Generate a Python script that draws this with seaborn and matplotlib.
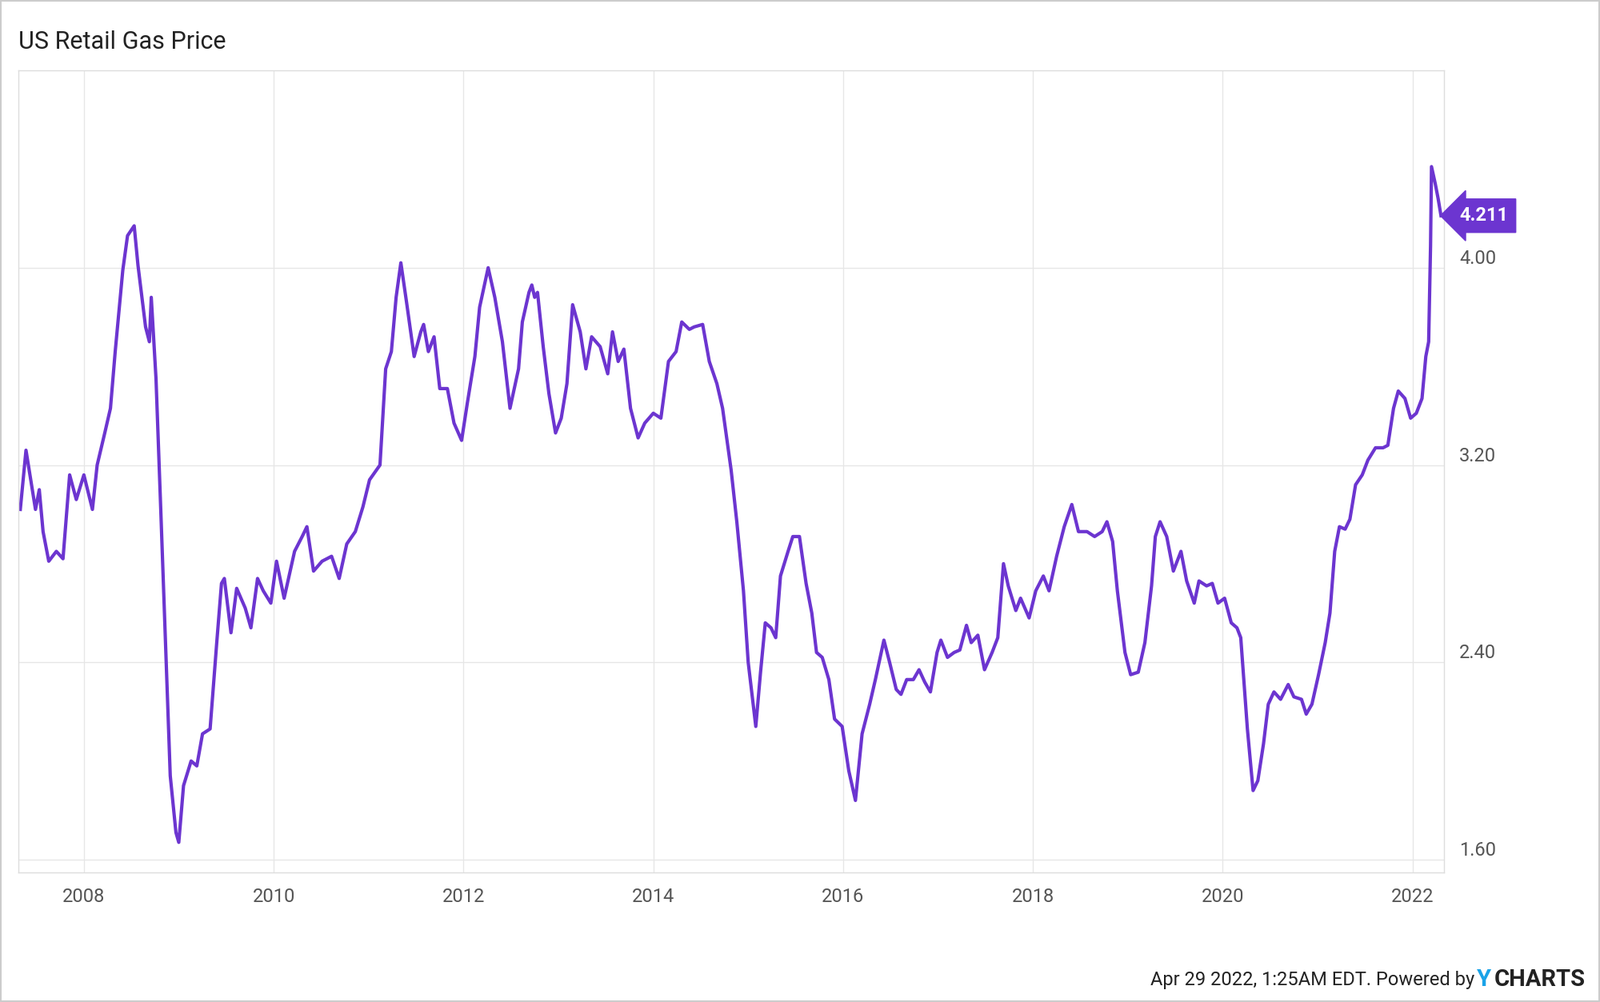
import matplotlib
matplotlib.use("Agg")
import matplotlib.pyplot as plt
import numpy as np
import pandas as pd
import seaborn as sns
from matplotlib.patches import Rectangle

years = [
    2007.33, 2007.39, 2007.49, 2007.53, 2007.57, 2007.63, 2007.71, 2007.78, 2007.85, 2007.92,
    2008.00, 2008.09, 2008.14, 2008.22, 2008.28, 2008.33, 2008.41, 2008.46, 2008.53, 2008.57,
    2008.65, 2008.69, 2008.71, 2008.76, 2008.81, 2008.86, 2008.91, 2008.97, 2009.00, 2009.05,
    2009.13, 2009.19, 2009.25, 2009.33, 2009.40, 2009.45, 2009.48, 2009.55, 2009.61, 2009.70,
    2009.76, 2009.83, 2009.89, 2009.97, 2010.03, 2010.11, 2010.22, 2010.30, 2010.35, 2010.42,
    2010.51, 2010.61, 2010.69, 2010.77, 2010.86, 2010.94, 2011.01, 2011.12, 2011.18, 2011.24,
    2011.29, 2011.34, 2011.40, 2011.48, 2011.55, 2011.58, 2011.63, 2011.69, 2011.75, 2011.83,
    2011.90, 2011.98, 2012.04, 2012.12, 2012.17, 2012.26, 2012.33, 2012.41, 2012.49, 2012.58,
    2012.62, 2012.69, 2012.72, 2012.75, 2012.78, 2012.84, 2012.90, 2012.97, 2013.03, 2013.09,
    2013.15, 2013.23, 2013.29, 2013.35, 2013.44, 2013.52, 2013.57, 2013.63, 2013.69, 2013.76,
    2013.84, 2013.91, 2014.00, 2014.08, 2014.16, 2014.24, 2014.30, 2014.38, 2014.43, 2014.52,
    2014.59, 2014.67, 2014.73, 2014.82, 2014.88, 2014.95, 2015.00, 2015.08, 2015.13, 2015.18,
    2015.24, 2015.29, 2015.34, 2015.42, 2015.47, 2015.54, 2015.61, 2015.67, 2015.72, 2015.78,
    2015.85, 2015.91, 2015.99, 2016.06, 2016.13, 2016.20, 2016.28, 2016.34, 2016.43, 2016.49,
    2016.56, 2016.61, 2016.67, 2016.74, 2016.80, 2016.86, 2016.92, 2016.99, 2017.03, 2017.10,
    2017.17, 2017.23, 2017.30, 2017.35, 2017.42, 2017.49, 2017.57, 2017.63, 2017.69, 2017.74,
    2017.82, 2017.87, 2017.96, 2018.03, 2018.11, 2018.17, 2018.25, 2018.33, 2018.41, 2018.48,
    2018.57, 2018.65, 2018.73, 2018.78, 2018.84, 2018.89, 2018.97, 2019.03, 2019.11, 2019.18,
    2019.25, 2019.29, 2019.34, 2019.41, 2019.48, 2019.56, 2019.62, 2019.70, 2019.75, 2019.83,
    2019.89, 2019.95, 2020.02, 2020.09, 2020.15, 2020.19, 2020.26, 2020.32, 2020.37, 2020.43,
    2020.48, 2020.54, 2020.61, 2020.69, 2020.75, 2020.83, 2020.88, 2020.94, 2021.01, 2021.08,
    2021.13, 2021.18, 2021.23, 2021.29, 2021.34, 2021.40, 2021.47, 2021.53, 2021.61, 2021.69,
    2021.74, 2021.80, 2021.85, 2021.92, 2021.98, 2022.04, 2022.10, 2022.14, 2022.17, 2022.19,
    2022.20, 2022.24, 2022.27, 2022.30,
]
prices = [
    3.02, 3.26, 3.02, 3.10, 2.93, 2.81, 2.85, 2.82, 3.16, 3.06,
    3.16, 3.02, 3.20, 3.33, 3.43, 3.66, 3.99, 4.13, 4.17, 4.01,
    3.76, 3.70, 3.88, 3.55, 3.02, 2.48, 1.94, 1.71, 1.67, 1.90,
    2.00, 1.98, 2.11, 2.13, 2.48, 2.72, 2.74, 2.52, 2.70, 2.62,
    2.54, 2.74, 2.69, 2.64, 2.81, 2.66, 2.85, 2.91, 2.95, 2.77,
    2.81, 2.83, 2.74, 2.88, 2.93, 3.03, 3.14, 3.20, 3.59, 3.66,
    3.88, 4.02, 3.86, 3.64, 3.74, 3.77, 3.66, 3.72, 3.51, 3.51,
    3.37, 3.30, 3.45, 3.64, 3.84, 4.00, 3.88, 3.70, 3.43, 3.59,
    3.78, 3.90, 3.93, 3.88, 3.90, 3.68, 3.49, 3.33, 3.39, 3.53,
    3.85, 3.74, 3.59, 3.72, 3.68, 3.57, 3.74, 3.62, 3.67, 3.43,
    3.31, 3.37, 3.41, 3.39, 3.62, 3.66, 3.78, 3.75, 3.76, 3.77,
    3.62, 3.53, 3.43, 3.18, 2.97, 2.69, 2.40, 2.14, 2.36, 2.56,
    2.54, 2.50, 2.75, 2.85, 2.91, 2.91, 2.72, 2.60, 2.44, 2.42,
    2.33, 2.17, 2.14, 1.96, 1.84, 2.11, 2.23, 2.33, 2.49, 2.40,
    2.29, 2.27, 2.33, 2.33, 2.37, 2.32, 2.28, 2.44, 2.49, 2.42,
    2.44, 2.45, 2.55, 2.48, 2.51, 2.37, 2.44, 2.50, 2.80, 2.71,
    2.61, 2.66, 2.58, 2.69, 2.75, 2.69, 2.83, 2.95, 3.04, 2.93,
    2.93, 2.91, 2.93, 2.97, 2.89, 2.69, 2.44, 2.35, 2.36, 2.48,
    2.71, 2.91, 2.97, 2.91, 2.77, 2.85, 2.73, 2.64, 2.73, 2.71,
    2.72, 2.64, 2.66, 2.56, 2.54, 2.50, 2.13, 1.88, 1.92, 2.07,
    2.23, 2.28, 2.25, 2.31, 2.26, 2.25, 2.19, 2.23, 2.35, 2.48,
    2.60, 2.85, 2.95, 2.94, 2.98, 3.12, 3.16, 3.22, 3.27, 3.27,
    3.28, 3.43, 3.50, 3.47, 3.39, 3.41, 3.47, 3.64, 3.70, 4.09,
    4.41, 4.34, 4.28, 4.211,
]
x_ticks = [2008, 2010, 2012, 2014, 2016, 2018, 2020, 2022]
y_ticks = [1.60, 2.40, 3.20, 4.00]
last_label = "4.211"

LINE = "#6c35d0"
GRID = "#e6e6e6"
TXT = "#555555"
FONT = "Roboto"

df = pd.DataFrame({"year": years, "price": prices})

fig = plt.figure(figsize=(20, 12.53), dpi=100)
fig.patches.append(Rectangle((0.0005, 0.0005), 0.999, 0.999, transform=fig.transFigure,
                             fill=False, edgecolor="#cccccc", linewidth=1.5))
ax = fig.add_axes([0.0115, 0.1293, 0.8909, 0.8004])

sns.lineplot(data=df, x="year", y="price", ax=ax, color=LINE, linewidth=3.0)

ax.set_xlim(2007.31, 2022.33)
ax.set_ylim(1.548, 4.80)
ax.set_xticks(x_ticks)
ax.set_xticklabels([str(t) for t in x_ticks], fontfamily=FONT, fontsize=17, color=TXT)
ax.set_yticks(y_ticks)
ax.set_yticklabels([f"{t:.2f}" for t in y_ticks], fontfamily=FONT, fontsize=17, color=TXT,
                   va="bottom")
ax.yaxis.tick_right()
ax.tick_params(axis="x", length=0, pad=14)
ax.tick_params(axis="y", length=0, pad=14)
ax.grid(True, color=GRID, linewidth=1)
ax.set_xlabel("")
ax.set_ylabel("")
for s in ax.spines.values():
    s.set_color("#dddddd")
    s.set_linewidth(1)

# last-value tag
ax.annotate(last_label, xy=(1.0, prices[-1]), xycoords=("axes fraction", "data"),
            xytext=(14, 0), textcoords="offset points", va="center", ha="left",
            fontfamily=FONT, fontsize=17, fontweight="bold", color="white",
            bbox=dict(boxstyle="larrow,pad=0.4", fc=LINE, ec=LINE))

fig.text(0.0115, 0.958, "US Retail Gas Price", fontfamily=FONT, fontsize=22,
         color="#222222", va="center", ha="left")
fig.text(0.9215, 0.022, "Apr 29 2022, 1:25AM EDT. Powered by", fontfamily=FONT,
         fontsize=17, color="#222222", ha="right", va="center")
fig.text(0.923, 0.022, "Y", fontfamily=FONT, fontsize=21, fontweight="bold",
         color="#1aa3e8", ha="left", va="center")
fig.text(0.934, 0.022, "CHARTS", fontfamily=FONT, fontsize=21, fontweight="bold",
         color="#222222", ha="left", va="center")

fig.savefig("out.png", dpi=100)
